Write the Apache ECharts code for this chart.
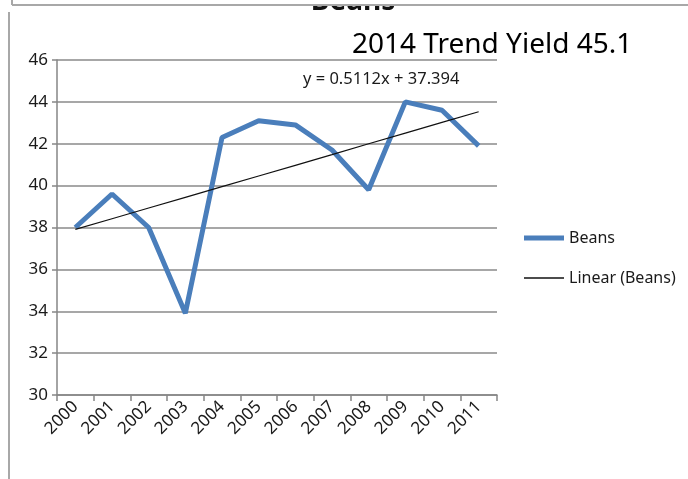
<!DOCTYPE html>
<html><head><meta charset="utf-8">
<script src="https://cdn.jsdelivr.net/npm/echarts@6/dist/echarts.min.js"></script>
<style>html,body{margin:0;padding:0;background:#fff}#c{width:688px;height:479px}</style>
</head><body><div id="c"></div>
<script>
const years = ['2000','2001','2002','2003','2004','2005','2006','2007','2008','2009','2010','2011'];
const beans = [38.0, 39.6, 38.0, 33.9, 42.3, 43.1, 42.9, 41.7, 39.8, 44.0, 43.6, 41.9];
const trend = [37.91, 38.42, 38.93, 39.44, 39.95, 40.46, 40.97, 41.48, 42.00, 42.51, 43.02, 43.53];
const yTicks = [30, 32, 34, 36, 38, 40, 42, 44, 46];
const titleText = 'Beans';
const subText = '2014 Trend Yield 45.1';
const eqText = 'y = 0.5112x + 37.394';

const chart = echarts.init(document.getElementById('c'), null, {renderer:'canvas'});
const font = 'Noto Sans, sans-serif';
const lblColor = '#1a1a1a';
chart.setOption({
  animation:false,
  backgroundColor:'#fff',
  title:{text:titleText, left:353, textAlign:'center', top:-12, padding:0,
    textStyle:{fontSize:28, fontWeight:'bold', color:'#111', fontFamily:font}},
  grid:{left:57, right:191, top:60, bottom:84, containLabel:false},
  legend:[
    {orient:'vertical', left:524, top:230, padding:0, itemWidth:40, itemHeight:5, icon:'rect',
      textStyle:{fontSize:16, color:lblColor, fontFamily:font}, data:['Beans']},
    {orient:'vertical', left:524, top:270, padding:0, itemWidth:40, itemHeight:1.5, icon:'rect',
      textStyle:{fontSize:16, color:lblColor, fontFamily:font}, data:['Linear (Beans)']}
  ],
  xAxis:{type:'category', data:years, boundaryGap:true,
    axisLine:{lineStyle:{color:'#868686', width:1.5}},
    axisTick:{show:true, length:6, lineStyle:{color:'#868686', width:1.5}},
    axisLabel:{rotate:45, fontSize:17, color:lblColor, fontFamily:font, margin:9}},
  yAxis:{type:'value', min:yTicks[0], max:yTicks[yTicks.length-1], interval:2,
    axisLine:{show:true, lineStyle:{color:'#868686', width:1.5}},
    axisTick:{show:true, length:5, lineStyle:{color:'#868686', width:1.5}},
    splitLine:{lineStyle:{color:'#8a8a8a', width:1.5}},
    axisLabel:{fontSize:17, color:lblColor, fontFamily:font, margin:9}},
  series:[
    {name:'Beans', type:'line', data:beans, symbol:'none',
      lineStyle:{color:'#4a7ebb', width:5}, itemStyle:{color:'#4a7ebb'}, z:3},
    {name:'Linear (Beans)', type:'line', data:trend, symbol:'none',
      lineStyle:{color:'#111', width:1.2}, itemStyle:{color:'#111'}, z:4}
  ],
  graphic:[
    {type:'rect', shape:{x:0,y:0,width:688,height:6}, style:{fill:'#fff'}, z:100},
    {type:'line', shape:{x1:12,y1:0,x2:12,y2:5}, style:{stroke:'#a8a8a8', lineWidth:2}, z:101},
    {type:'line', shape:{x1:12,y1:5,x2:688,y2:5}, style:{stroke:'#a8a8a8', lineWidth:2}, z:101},
    {type:'line', shape:{x1:9,y1:12,x2:9,y2:479}, style:{stroke:'#a8a8a8', lineWidth:2}, z:101},
    {type:'text', left:352, top:31, style:{text:subText, fontSize:28, fill:'#000', fontFamily:font}, z:50},
    {type:'text', left:303, top:71, style:{text:eqText, fontSize:16.5, fill:lblColor, fontFamily:font}, z:50}
  ]
});
</script></body></html>
